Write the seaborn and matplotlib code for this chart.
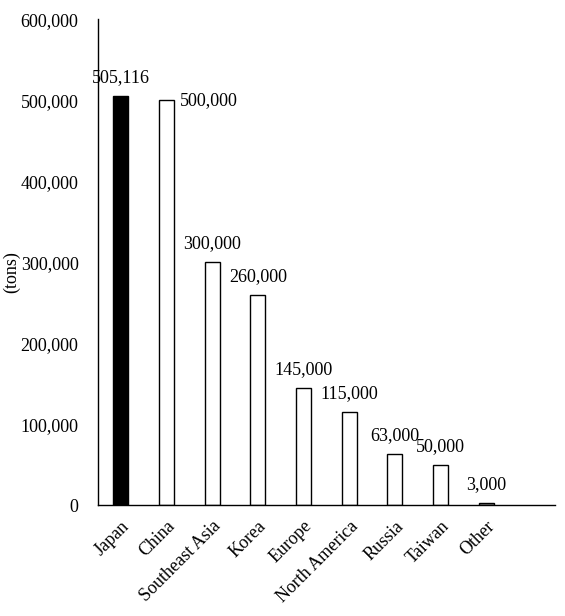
import matplotlib.pyplot as plt
import seaborn as sns
import pandas as pd

regions = ['Japan', 'China', 'Southeast Asia', 'Korea', 'Europe',
           'North America', 'Russia', 'Taiwan', 'Other']
tons = [505116, 500000, 300000, 260000, 145000, 115000, 63000, 50000, 3000]
labels = ['505,116', '500,000', '300,000', '260,000', '145,000',
          '115,000', '63,000', '50,000', '3,000']
fills = ['black'] + ['white'] * 7 + ['#9a9a9a']

sns.set_style('white')
plt.rcParams['font.family'] = ['Liberation Serif', 'DejaVu Serif']
plt.rcParams['font.size'] = 13
plt.rcParams['text.color'] = 'black'
plt.rcParams['axes.labelcolor'] = 'black'
plt.rcParams['xtick.color'] = 'black'
plt.rcParams['ytick.color'] = 'black'

df = pd.DataFrame({'region': regions, 'tons': tons})

fig = plt.figure(figsize=(5.65, 6.16), dpi=100)
ax = fig.add_axes([0.1735, 0.180, 0.8085, 0.789])

sns.barplot(data=df, x='region', y='tons', hue='region', palette=fills,
            edgecolor='black', linewidth=1, width=0.33, legend=False, ax=ax)

ax.set_xlim(-0.5, 9.5)
ax.set_ylim(0, 600000)
ax.set_yticks(range(0, 600001, 100000))
ax.set_yticklabels([f'{v:,}' for v in range(0, 600001, 100000)])
ax.set_xticks(range(len(regions)))
ax.set_xticklabels(regions, rotation=45, ha='right', rotation_mode='anchor')
ax.tick_params(axis='y', direction='out', length=3, width=1, color='black', pad=11)
ax.tick_params(axis='x', length=0, pad=9)
ax.set_xlabel('')
ax.set_ylabel('(tons)')
ax.yaxis.set_label_coords(-0.17, 0.48)

for s in ['top', 'right']:
    ax.spines[s].set_visible(False)
for s in ['left', 'bottom']:
    ax.spines[s].set_color('black')
    ax.spines[s].set_linewidth(1)

for i, (v, lab) in enumerate(zip(tons, labels)):
    if regions[i] == 'China':
        ax.text(i + 0.3, v, lab, ha='left', va='center')
    else:
        ax.text(i, v + 12000, lab, ha='center', va='bottom')

fig.savefig('out.png', dpi=100)
